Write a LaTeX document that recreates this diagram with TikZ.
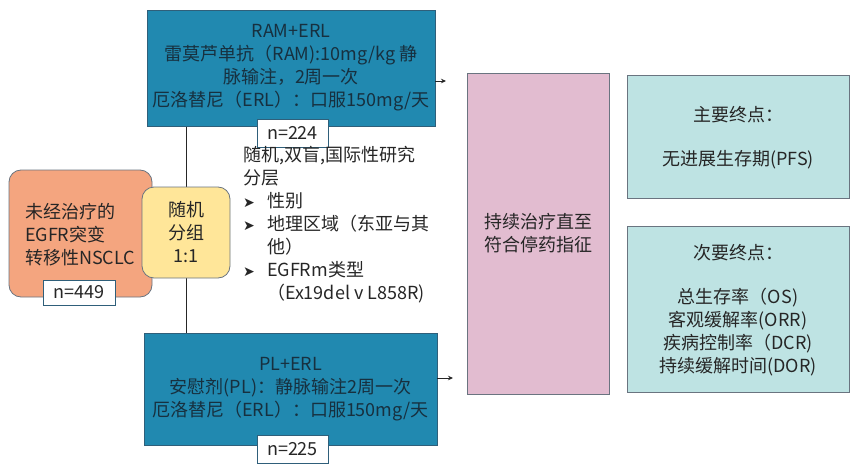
\documentclass[tikz,border=0pt]{standalone}
\usepackage{fontspec}
\setmainfont{Noto Sans CJK SC}
\newfontfamily\dejavu{DejaVu Sans}
\usetikzlibrary{arrows.meta,calc}
\definecolor{bluebox}{HTML}{2189B0}
\definecolor{blueedge}{HTML}{2F5F7A}
\definecolor{orangebox}{HTML}{F4A57F}
\definecolor{yellowbox}{HTML}{FFE699}
\definecolor{pinkbox}{HTML}{E2BCD0}
\definecolor{tealbox}{HTML}{BEE3E3}
\definecolor{edgegray}{HTML}{6A7480}
\definecolor{txt}{HTML}{262626}
\definecolor{bluetxt}{HTML}{17303F}
\newcommand{\bul}{\makebox[24pt][l]{\dejavu\fontsize{14}{23}\selectfont ➤}}
\begin{document}
\begin{tikzpicture}[x=1pt,y=-1pt,
  every node/.style={inner sep=0pt, outer sep=0pt},
  txtstyle/.style={font=\fontsize{18}{23}\selectfont, text=txt, align=center},
  armbox/.style={draw=blueedge, line width=0.8pt, fill=bluebox, txtstyle, text=bluetxt},
  nbox/.style={draw=blueedge, line width=0.8pt, fill=white, txtstyle, minimum width=71pt, minimum height=28pt},
  roundbox/.style={draw=edgegray, line width=0.8pt, rounded corners=12pt, txtstyle},
  endbox/.style={draw=edgegray, line width=0.8pt, fill=tealbox},
  conn/.style={draw=txt, line width=0.8pt},
  arr/.style={conn, -{Stealth[length=5pt,width=4.5pt]}}
]
\useasboundingbox (0,0) rectangle (860,471);

% connector between arms
\coordinate (vtop) at (186,126);
\coordinate (vbot) at (186,333);
\draw[conn] (vtop) -- (vbot);

% arm boxes
\node[armbox, minimum width=288pt, minimum height=116pt] (ram) at (291,68)
  {RAM+ERL\\雷莫芦单抗（RAM):10mg/kg 静\\脉输注，2周一次\\厄洛替尼（ERL）：口服150mg/天};
\node[armbox, minimum width=293pt, minimum height=112pt] (pl) at (290.5,389)
  {PL+ERL\\安慰剂(PL)：静脉输注2周一次\\厄洛替尼（ERL）：口服150mg/天};

\node[nbox] (n224) at (292.5,133) {n=224};
\node[nbox] (n225) at (292.5,449) {n=225};

% patient box
\node[roundbox, fill=orangebox, minimum width=143pt, minimum height=127pt] (pat) at (80.5,233.5) {};
\node[txtstyle, align=left, anchor=west] (patt) at (25,234.5)
  {未经治疗的\\EGFR突变\\转移性NSCLC};
\node[nbox, minimum width=72pt, minimum height=25pt] (n449) at (79,292.5) {n=449};

% randomisation box
\node[roundbox, fill=yellowbox, minimum width=88pt, minimum height=91pt] (rand) at (186,232.5)
  {随机\\分组\\1:1};

% study description
\node[txtstyle, align=left, anchor=north west] (desc) at (243,146)
  {随机,双盲,国际性研究\\
   分层\\
   \bul 性别\\
   \bul 地理区域（东亚与其\\
   \hspace{24pt}他）\\
   \bul EGFRm类型\\
   \hspace{24pt}（Ex19del v L858R)};

% treatment box
\node[draw=edgegray, line width=0.8pt, fill=pinkbox, txtstyle, minimum width=142pt, minimum height=321pt] (treat) at (538,233.5)
  {持续治疗直至\\符合停药指征};

% arrows
\coordinate (a1) at (446,81);
\coordinate (a2) at (453,378);
\draw[arr] (ram.east |- a1) -- (a1);
\draw[arr] (pl.east |- a2) -- (a2);

% endpoints
\node[endbox, minimum width=222pt, minimum height=123pt] (prim) at (738,136.5) {};
\node[txtstyle] (primt) at (738,115) {主要终点：};
\node[txtstyle] (primv) at (738,160) {无进展生存期(PFS)};

\node[endbox, minimum width=222pt, minimum height=166pt] (sec) at (738,309) {};
\node[txtstyle] (sect) at (738,253) {次要终点：};
\node[txtstyle] (secv) at (738,332.5)
  {总生存率（OS)\\客观缓解率(ORR)\\疾病控制率（DCR)\\持续缓解时间(DOR)};
\end{tikzpicture}
\end{document}
